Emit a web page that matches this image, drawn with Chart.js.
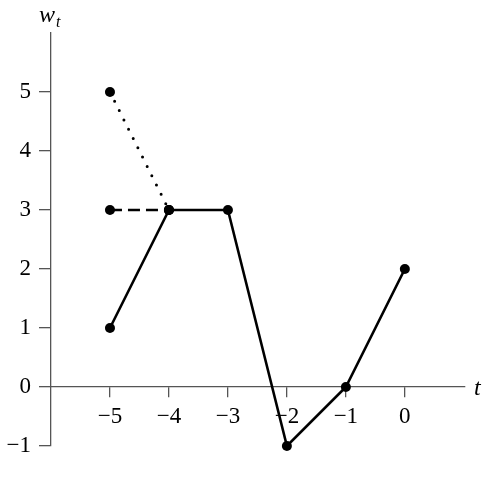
<!DOCTYPE html>
<html><head><meta charset="utf-8">
<script src="https://cdn.jsdelivr.net/npm/chart.js@4"></script>
<style>html,body{margin:0;padding:0;background:#fff}canvas{display:block}</style>
</head><body>
<canvas id="c" width="486" height="478"></canvas>
<script>
// Data
const tValues = [-5, -4, -3, -2, -1, 0];
const wSolid = [1, 3, 3, -1, 0, 2];
const dashedT = [-5, -4];
const dashedW = [3, 3];
const dottedT = [-5, -4];
const dottedW = [5, 3];
const xTicks = [-5, -4, -3, -2, -1, 0];
const yTicks = [-1, 0, 1, 2, 3, 4, 5];

const toPts = (xs, ys) => xs.map((x, i) => ({x: x, y: ys[i]}));
const fmt = v => (v < 0 ? '\u2212' + Math.abs(v) : String(v));
const tickFont = {family: '"Liberation Serif", serif', size: 23};
const axisColor = '#555';

const titles = {
  id: 'titles',
  afterDraw(chart) {
    const ctx = chart.ctx;
    ctx.save();
    ctx.fillStyle = '#000';
    ctx.textBaseline = 'alphabetic';
    ctx.textAlign = 'left';
    ctx.font = 'italic 24px "Liberation Serif"';
    ctx.fillText('w', 39, 22);
    ctx.font = 'italic 16px "Liberation Serif"';
    ctx.fillText('t', 56, 27);
    ctx.font = 'italic 24px "Liberation Serif"';
    ctx.fillText('t', 474, 395);
    ctx.restore();
  }
};

new Chart(document.getElementById('c'), {
  type: 'scatter',
  data: {
    datasets: [
      {data: toPts(dottedT, dottedW), showLine: true, borderColor: '#000', backgroundColor: '#000', clip: false,
       borderWidth: 3, borderDash: [0, 10.4], borderCapStyle: 'round', pointRadius: 5, pointBorderWidth: 0},
      {data: toPts(dashedT, dashedW), showLine: true, borderColor: '#000', backgroundColor: '#000', clip: false,
       borderWidth: 2.6, borderDash: [12, 6], pointRadius: 5, pointBorderWidth: 0},
      {data: toPts(tValues, wSolid), showLine: true, borderColor: '#000', backgroundColor: '#000', clip: false,
       borderWidth: 2.6, pointRadius: 5, pointBorderWidth: 0}
    ]
  },
  options: {
    responsive: false,
    animation: false,
    events: [],
    layout: {padding: {left: 0, right: 21, top: 33, bottom: 32}},
    plugins: {legend: {display: false}, tooltip: {enabled: false}},
    scales: {
      x: {
        type: 'linear', position: {y: 0}, min: -6, max: 1.02,
        afterBuildTicks: s => { s.ticks = xTicks.map(v => ({value: v})); },
        grid: {drawOnChartArea: false, drawTicks: true, tickLength: 10, color: axisColor, lineWidth: 1.3},
        border: {display: true, color: axisColor, width: 1.3},
        ticks: {font: tickFont, color: '#000', padding: 6, maxRotation: 0, autoSkip: false, callback: v => fmt(v)}
      },
      y: {
        type: 'linear', position: 'left', min: -1, max: 6,
        afterBuildTicks: s => { s.ticks = yTicks.map(v => ({value: v})); },
        afterFit: s => { s.width = 51; },
        grid: {drawOnChartArea: false, drawTicks: true, tickLength: 12, color: axisColor, lineWidth: 1.3},
        border: {display: true, color: axisColor, width: 1.3},
        ticks: {font: tickFont, color: '#000', padding: 8, autoSkip: false, callback: v => fmt(v)}
      }
    }
  },
  plugins: [titles]
});
</script>
</body></html>
